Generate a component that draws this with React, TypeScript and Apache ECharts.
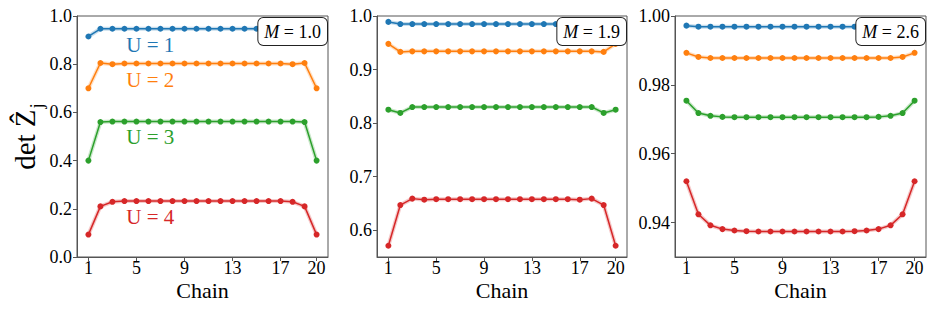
import React, { useEffect, useRef } from "react";
import * as echarts from "echarts";

const chains = [1, 2, 3, 4, 5, 6, 7, 8, 9, 10, 11, 12, 13, 14, 15, 16, 17, 18, 19, 20];
const xTicks = [1, 5, 9, 13, 17, 20];
const colors = ["#1f77b4", "#ff7f0e", "#2ca02c", "#d62728"];
const uLabels = ["U = 1", "U = 2", "U = 3", "U = 4"];
const mLabels = ["1.0", "1.9", "2.6"];

// Panel M = 1.0
const m10U1 = [0.915, 0.947, 0.947, 0.947, 0.947, 0.947, 0.947, 0.947, 0.947, 0.947, 0.947, 0.947, 0.947, 0.947, 0.947, 0.947, 0.947, 0.947, 0.947, 0.915];
const m10U2 = [0.70, 0.805, 0.80, 0.803, 0.803, 0.803, 0.803, 0.803, 0.803, 0.803, 0.803, 0.803, 0.803, 0.803, 0.803, 0.803, 0.803, 0.80, 0.805, 0.70];
const m10U3 = [0.40, 0.560, 0.562, 0.562, 0.562, 0.562, 0.562, 0.562, 0.562, 0.562, 0.562, 0.562, 0.562, 0.562, 0.562, 0.562, 0.562, 0.562, 0.560, 0.40];
const m10U4 = [0.093, 0.210, 0.229, 0.232, 0.232, 0.232, 0.232, 0.232, 0.232, 0.232, 0.232, 0.232, 0.232, 0.232, 0.232, 0.232, 0.232, 0.229, 0.210, 0.093];

// Panel M = 1.9
const m19U1 = [0.989, 0.985, 0.985, 0.985, 0.985, 0.985, 0.985, 0.985, 0.985, 0.985, 0.985, 0.985, 0.985, 0.985, 0.985, 0.985, 0.985, 0.985, 0.985, 0.989];
const m19U2 = [0.948, 0.933, 0.934, 0.934, 0.934, 0.934, 0.934, 0.934, 0.934, 0.934, 0.934, 0.934, 0.934, 0.934, 0.934, 0.934, 0.934, 0.934, 0.933, 0.948];
const m19U3 = [0.825, 0.819, 0.830, 0.830, 0.830, 0.830, 0.830, 0.830, 0.830, 0.830, 0.830, 0.830, 0.830, 0.830, 0.830, 0.830, 0.830, 0.830, 0.819, 0.825];
const m19U4 = [0.571, 0.647, 0.659, 0.657, 0.658, 0.658, 0.658, 0.658, 0.658, 0.658, 0.658, 0.658, 0.658, 0.658, 0.658, 0.658, 0.657, 0.659, 0.647, 0.571];

// Panel M = 2.6
const m26U1 = [0.9972, 0.9969, 0.9969, 0.9969, 0.9969, 0.9969, 0.9969, 0.9969, 0.9969, 0.9969, 0.9969, 0.9969, 0.9969, 0.9969, 0.9969, 0.9969, 0.9969, 0.9969, 0.9969, 0.9972];
const m26U2 = [0.9893, 0.9881, 0.9878, 0.9878, 0.9878, 0.9878, 0.9878, 0.9878, 0.9878, 0.9878, 0.9878, 0.9878, 0.9878, 0.9878, 0.9878, 0.9878, 0.9878, 0.9878, 0.9881, 0.9893];
const m26U3 = [0.9754, 0.9718, 0.9710, 0.9707, 0.9706, 0.9706, 0.9706, 0.9706, 0.9706, 0.9706, 0.9706, 0.9706, 0.9706, 0.9706, 0.9706, 0.9706, 0.9707, 0.9710, 0.9718, 0.9754];
const m26U4 = [0.9520, 0.9424, 0.9392, 0.9381, 0.9377, 0.9375, 0.9374, 0.9374, 0.9374, 0.9374, 0.9374, 0.9374, 0.9374, 0.9374, 0.9375, 0.9377, 0.9381, 0.9392, 0.9424, 0.9520];

const panels = [
  [m10U1, m10U2, m10U3, m10U4],
  [m19U1, m19U2, m19U3, m19U4],
  [m26U1, m26U2, m26U3, m26U4],
];

const yMin = [0, 0.55, 0.93];
const yMax = [1.0, 1.0, 1.0];
const yTicks = [
  [0.0, 0.2, 0.4, 0.6, 0.8, 1.0],
  [0.6, 0.7, 0.8, 0.9, 1.0],
  [0.94, 0.96, 0.98, 1.0],
];
const yDecimals = [1, 1, 2];

// label anchor positions for U labels in panel 1 (data coords)
const uLabelX = [6.15, 6.15, 6.15, 6.15];
const uLabelY = [0.88, 0.735, 0.50, 0.167];

const FONT = "Liberation Serif";
const FRAME = "#555";

export default function App() {
  const ref = useRef<HTMLDivElement>(null);
  useEffect(() => {
    if (!ref.current) return;
    const chart = echarts.init(ref.current, null, { renderer: "svg" });
    const gridLefts = [77, 377, 675];
    const gridWidths = [251, 250, 251];
    const grids = gridLefts.map((l, i) => ({
      left: l,
      top: 16,
      width: gridWidths[i],
      height: 241,
      show: true,
      borderColor: FRAME,
      borderWidth: 1,
      backgroundColor: "transparent",
    }));
    const xAxes = gridLefts.map((_, i) => ({
      type: "value",
      gridIndex: i,
      min: 0.05,
      max: 20.95,
      name: "Chain",
      nameLocation: "middle",
      nameGap: 22,
      nameMoveOverlap: false,
      nameTextStyle: { fontFamily: FONT, fontSize: 22, color: "#000", verticalAlign: "top" },
      axisLine: { show: true, onZero: false, lineStyle: { color: FRAME } },
      axisTick: { show: true, length: 4, customValues: xTicks, lineStyle: { color: FRAME } },
      axisLabel: { show: true, customValues: xTicks, margin: 2, fontFamily: FONT, fontSize: 18, color: "#000" },
      splitLine: { show: false },
    }));
    const yAxes = gridLefts.map((_, i) => ({
      type: "value",
      gridIndex: i,
      min: yMin[i],
      max: yMax[i],
      name: i === 0 ? "{a|det Ẑ}{s|j}" : "",
      nameLocation: "middle",
      nameGap: 30,
      nameTextStyle: {
        fontFamily: FONT,
        color: "#000",
        rich: {
          a: { fontFamily: FONT, fontSize: 29, color: "#000", lineHeight: 34, verticalAlign: "bottom" },
          s: { fontFamily: FONT, fontSize: 19, color: "#000", lineHeight: 34, verticalAlign: "bottom", padding: [0, 0, -6, 1] },
        },
      },
      axisLine: { show: true, lineStyle: { color: FRAME } },
      axisTick: { show: true, length: 4, customValues: yTicks[i], lineStyle: { color: FRAME } },
      axisLabel: {
        show: true,
        customValues: yTicks[i],
        margin: 5,
        fontFamily: FONT,
        fontSize: 18,
        color: "#000",
        formatter: (v: number) => v.toFixed(yDecimals[i]),
      },
      splitLine: { show: false },
    }));

    const series: any[] = [];
    panels.forEach((panel, pi) => {
      panel.forEach((vals, ui) => {
        const data = chains.map((c, k) => [c, vals[k]]);
        series.push({
          type: "line",
          xAxisIndex: pi,
          yAxisIndex: pi,
          data,
          symbol: "none",
          silent: true,
          lineStyle: { color: colors[ui], width: 4, opacity: 0.25 },
          z: 1,
        });
        const s: any = {
          type: "line",
          xAxisIndex: pi,
          yAxisIndex: pi,
          data,
          symbol: "circle",
          symbolSize: 6,
          itemStyle: { color: colors[ui] },
          lineStyle: { color: colors[ui], width: 1.5 },
          z: 2,
        };
        if (pi === 0) {
          s.markPoint = {
            symbol: "circle",
            symbolSize: 1,
            itemStyle: { color: "rgba(0,0,0,0)" },
            label: {
              show: true,
              position: "inside",
              formatter: uLabels[ui],
              fontFamily: FONT,
              fontSize: 21,
              color: colors[ui],
            },
            data: [{ coord: [uLabelX[ui], uLabelY[ui]] }],
          };
        }
        series.push(s);
      });
    });

    const graphic = gridLefts.map((l, i) => ({
      type: "text",
      z: 100,
      x: l + gridWidths[i] - 1,
      y: 18,
      style: {
        text: `{i|M}{n| = ${mLabels[i]}}`,
        align: "right",
        verticalAlign: "top",
        fontFamily: FONT,
        fontSize: 18,
        fill: "#000",
        backgroundColor: "#fff",
        borderColor: "#222",
        borderWidth: 1,
        borderRadius: 5,
        padding: [5, 6, 4, 6],
        rich: {
          i: { fontFamily: FONT, fontSize: 18, fontStyle: "italic", fill: "#000" },
          n: { fontFamily: FONT, fontSize: 18, fill: "#000" },
        },
      },
    }));

    chart.setOption({
      animation: false,
      backgroundColor: "#fff",
      grid: grids,
      xAxis: xAxes,
      yAxis: yAxes,
      series,
      graphic,
    });
    return () => chart.dispose();
  }, []);
  return (
    <div
      ref={ref}
      style={{ position: "absolute", left: 0, top: 0, width: 937, height: 312 }}
    />
  );
}
